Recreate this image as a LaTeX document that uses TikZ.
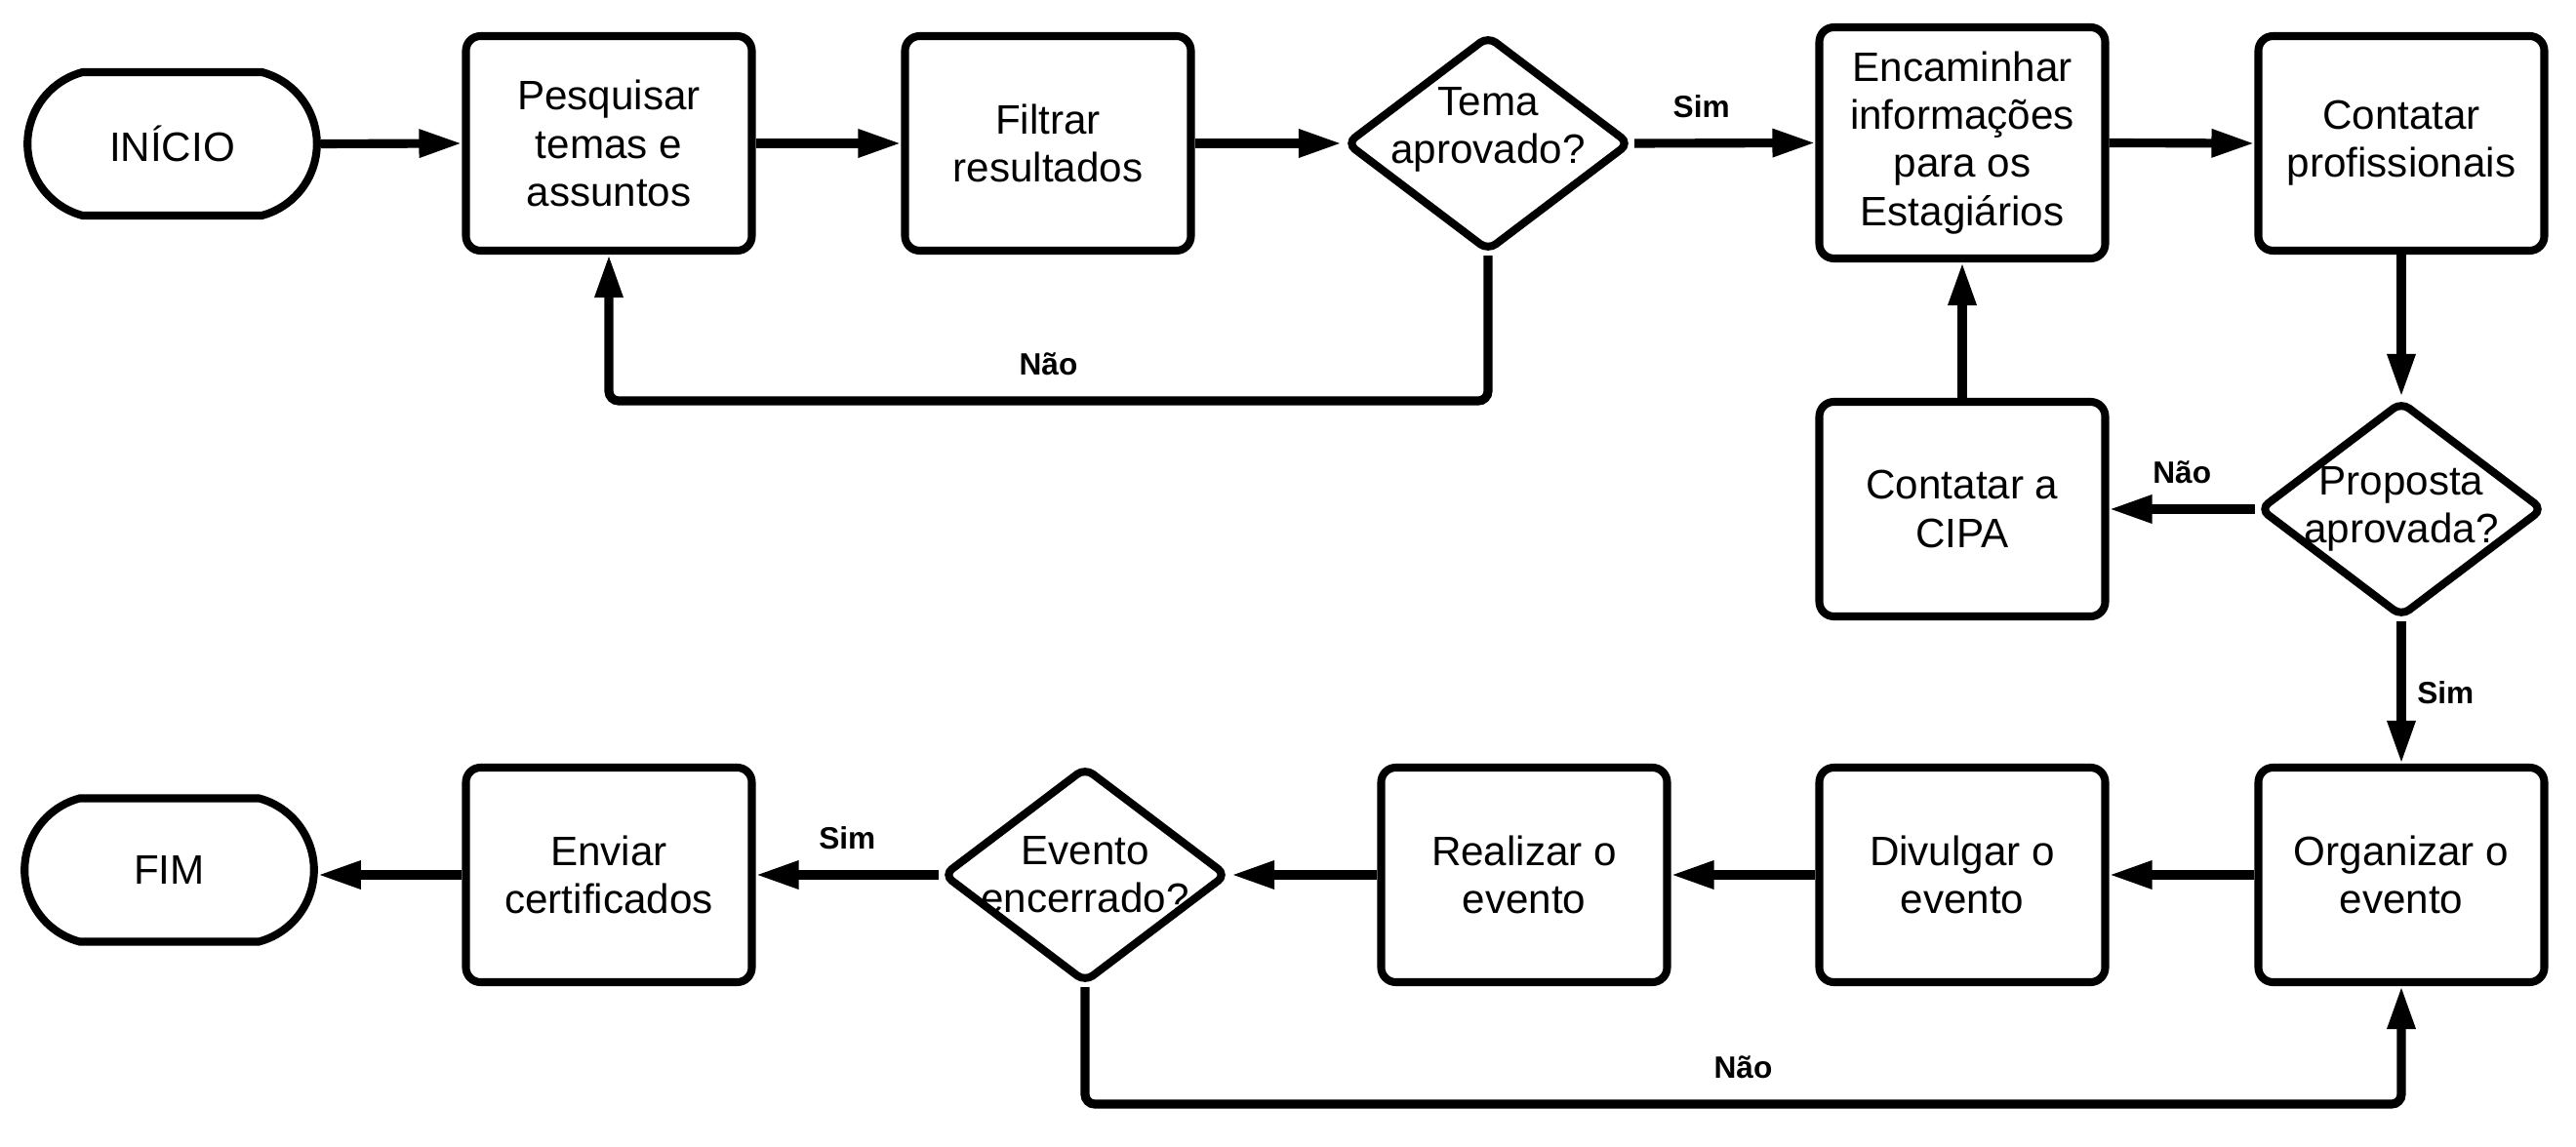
\documentclass[tikz,border=0pt]{standalone}
\usepackage{fontspec}
\setmainfont{Liberation Sans}
\usetikzlibrary{shapes.geometric,shapes.misc,arrows.meta}

\begin{document}
\begin{tikzpicture}[
  line width=2.3pt,
  font=\fontsize{12}{14}\selectfont,
  box/.style={draw, rectangle, rounded corners=0.15cm, minimum width=2.93cm, minimum height=2.2cm, align=center, inner sep=0pt},
  terminal/.style={draw, rounded rectangle, rounded rectangle arc length=150, minimum width=3.2cm, minimum height=1.47cm},
  decision/.style={draw, diamond, rounded corners=0.1cm, minimum width=2.92cm, minimum height=2.22cm, inner sep=0pt},
  arrow/.style={-{Triangle[length=0.44cm, width=0.27cm]}, line width=2.6pt},
  answer/.style={font=\bfseries\fontsize{9}{10}\selectfont}
]
  % Fix the page size
  \useasboundingbox (0,0) rectangle (26.4,-11.76);

  % First row
  \node[terminal] (inicio) at (1.765,-1.475) {INÍCIO};
  \node[box] (pesq) at (6.24,-1.47) {Pesquisar\\temas e\\assuntos};
  \node[box] (filtrar) at (10.74,-1.47) {Filtrar\\resultados};
  \node[decision, label={[align=center, yshift=0.14cm]center:Tema\\aprovado?}] (tema) at (15.25,-1.47) {};
  \node[box, minimum height=2.37cm] (encam) at (20.11,-1.465) {Encaminhar\\informações\\para os\\Estagiários};
  \node[box] (contprof) at (24.61,-1.47) {Contatar\\profissionais};

  % Second row
  \node[decision, label={[align=center]center:Proposta\\aprovada?}] (proposta) at (24.61,-5.22) {};
  \node[box] (cipa) at (20.11,-5.22) {Contatar a\\CIPA};

  % Third row
  \node[box] (organizar) at (24.61,-8.97) {Organizar o\\evento};
  \node[box] (divulgar) at (20.11,-8.97) {Divulgar o\\evento};
  \node[box] (realizar) at (15.62,-8.97) {Realizar o\\evento};
  \node[decision, label={[align=center]center:Evento\\encerrado?}] (evento) at (11.12,-8.97) {};
  \node[box] (enviar) at (6.24,-8.97) {Enviar\\certificados};
  \node[terminal] (fim) at (1.735,-8.92) {FIM};

  % Connectors
  \draw[arrow] (inicio.east) -- (pesq.west);
  \draw[arrow] (pesq.east) -- (filtrar.west);
  \draw[arrow] (filtrar.east) -- (tema.west);
  \draw[arrow] (tema.east) -- node[answer, above=0.1cm, pos=0.37] {Sim} (encam.west);
  \draw[arrow, rounded corners=0.1cm] (tema.south) -- ++(0,-1.49) -| node[answer, above=0.1cm, pos=0.25] {Não} (pesq.south);
  \draw[arrow] (encam.east) -- (contprof.west);
  \draw[arrow] (contprof.south) -- (proposta.north);
  \draw[arrow] (proposta.west) -- node[answer, above=0.1cm] {Não} (cipa.east);
  \draw[arrow] (cipa.north) -- (encam.south);
  \draw[arrow] (proposta.south) -- node[answer, right] {Sim} (organizar.north);
  \draw[arrow] (organizar.west) -- (divulgar.east);
  \draw[arrow] (divulgar.west) -- (realizar.east);
  \draw[arrow] (realizar.west) -- (evento.east);
  \draw[arrow] (evento.west) -- node[answer, above=0.1cm] {Sim} (enviar.east);
  \draw[arrow, rounded corners=0.1cm] (evento.south) -- ++(0,-1.2) -| node[answer, above=0.1cm, pos=0.25] {Não} (organizar.south);
  \draw[arrow] (enviar.west) -- (enviar.west -| fim.east);
\end{tikzpicture}
\end{document}
